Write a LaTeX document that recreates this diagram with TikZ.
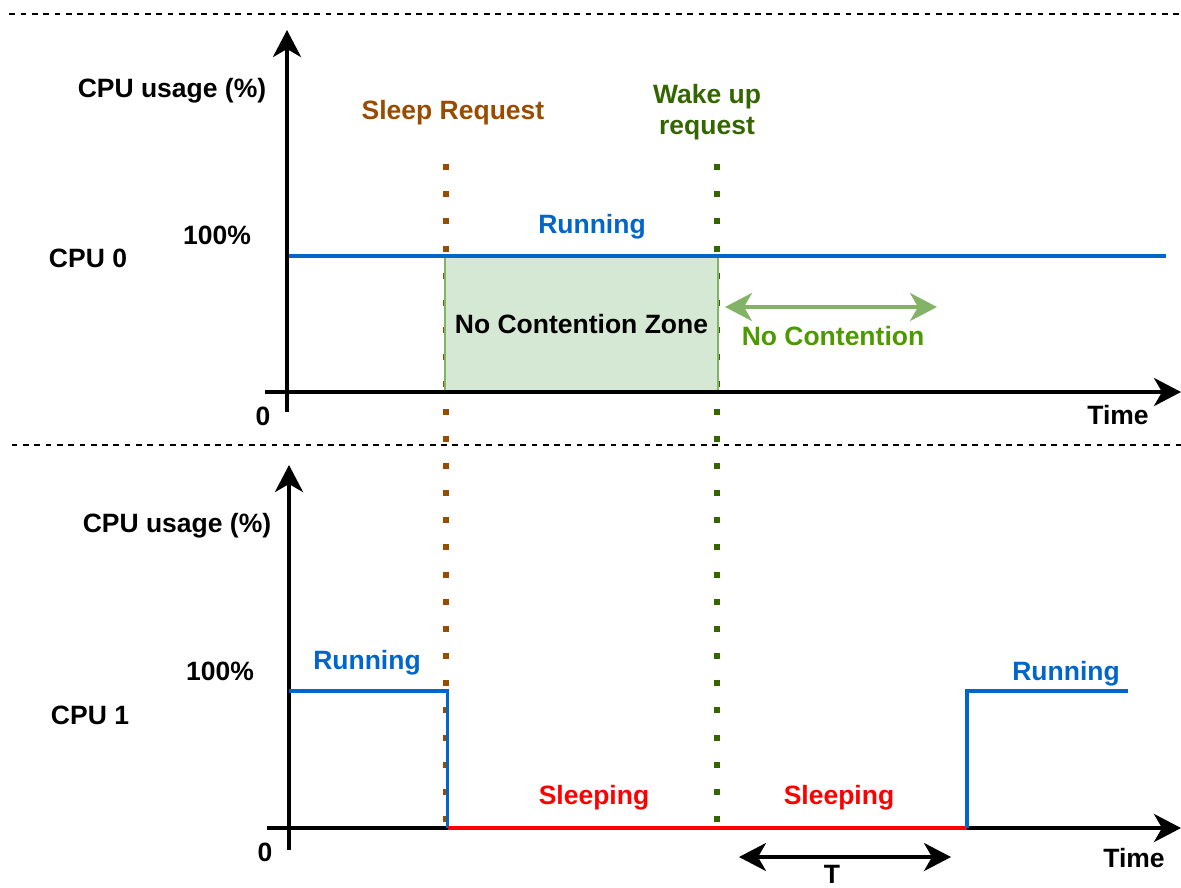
\documentclass[tikz,border=0pt]{standalone}
\usepackage{fontspec}
\setmainfont{Liberation Sans}
\usetikzlibrary{arrows.meta}
\definecolor{cblue}{HTML}{0066CC}
\definecolor{cred}{HTML}{FF0000}
\definecolor{cbrown}{HTML}{994C00}
\definecolor{cdkgreen}{HTML}{336600}
\definecolor{cgreen}{HTML}{4D9900}
\definecolor{carrow}{HTML}{82B366}
\definecolor{cboxfill}{HTML}{D5E8D4}
\begin{document}
\begin{tikzpicture}[x=1pt,y=-1pt,
  lbl/.style={font=\bfseries\fontsize{26.5}{31}\selectfont, inner sep=0pt, anchor=base},
  bigtip/.style={-{Stealth[length=27pt,width=28pt,inset=8pt]}},
  bothtips/.style={{Stealth[length=27pt,width=28pt,inset=8pt]}-{Stealth[length=27pt,width=28pt,inset=8pt]}},
  axisline/.style={line width=4pt, black, bigtip},
  sepline/.style={line width=1.4pt, black, dash pattern=on 5.7pt off 5.6pt},
  dotline/.style={line width=6pt, dash pattern=on 6pt off 21.17pt},
  sigline/.style={line width=3.5pt, line join=miter},
]
\useasboundingbox (0,0) rectangle (1181,887);

% separators
\coordinate (s1l) at (9.3,14);
\coordinate (s1r) at (1181,14);
\coordinate (s2l) at (11.7,445);
\coordinate (s2r) at (1181,445);
\draw[sepline] (s1l) -- (s1r);
\draw[sepline] (s2l) -- (s2r);

% request lines
\coordinate (slt) at (445.7,164);
\coordinate (slb) at (445.7,828);
\coordinate (wkt) at (717.3,164);
\coordinate (wkb) at (717.3,828);
\draw[dotline, cbrown] (slt) -- (slb);
\draw[dotline, cdkgreen] (wkt) -- (wkb);

% ---------- CPU 0 ----------
\node[draw=carrow, fill=cboxfill, line width=2pt, minimum width=273pt, minimum height=135pt,
      anchor=north west, inner sep=0pt, font=\bfseries\fontsize{26.5}{31}\selectfont] (zone) at (444,256) {No Contention Zone};

\coordinate (r0a) at (287,256);
\coordinate (r0b) at (1166,256);
\draw[sigline, cblue] (r0a) -- (r0b);

\coordinate (y0b) at (287,412);
\coordinate (y0t) at (287,30);
\coordinate (x0l) at (265,392);
\coordinate (x0r) at (1181,392);
\draw[axisline] (y0b) -- (y0t);
\draw[axisline] (x0l) -- (x0r);

\coordinate (nca) at (725,307);
\coordinate (ncb) at (937,307);
\draw[line width=3.5pt, carrow, bothtips] (nca) -- (ncb);

\node[lbl] (u0) at (172,97) {CPU usage (\%)};
\node[lbl] (h0) at (217,244) {100\%};
\node[lbl] (c0) at (88,267) {CPU 0};
\node[lbl] (z0) at (263,425) {0};
\node[lbl] (t0) at (1118,424) {Time};
\node[lbl, text=cbrown] (sleepreq) at (453,119) {Sleep Request};
\node[lbl, text=cdkgreen, align=center] (wakereq) at (707,134) {Wake up\\request};
\node[lbl, text=cblue] (run0) at (592,233) {Running};
\node[lbl, text=cgreen] (nocont) at (833,345) {No Contention};

% ---------- CPU 1 ----------
\coordinate (p1) at (289,691);
\coordinate (p2) at (447.5,691);
\coordinate (p3) at (447.5,828);
\coordinate (p4) at (967,828);
\coordinate (p5) at (967,691);
\coordinate (p6) at (1128,691);

\coordinate (y1b) at (289,850);
\coordinate (y1t) at (289,465);
\coordinate (x1l) at (267,828);
\coordinate (x1r) at (1181,828);
\draw[axisline] (y1b) -- (y1t);
\draw[axisline] (x1l) -- (x1r);

\draw[sigline, cblue] (p1) -- (p2) -- (p3);
\draw[sigline, cred] (p3) -- (p4);
\draw[sigline, cblue] (p4) -- (p5) -- (p6);

\coordinate (ta) at (739,857);
\coordinate (tb) at (951,857);
\draw[line width=3.5pt, black, bothtips] (ta) -- (tb);

\node[lbl] (u1) at (177,532) {CPU usage (\%)};
\node[lbl] (h1) at (220,680) {100\%};
\node[lbl] (c1) at (90,724) {CPU 1};
\node[lbl] (z1) at (265,861) {0};
\node[lbl] (t1) at (1134,867) {Time};
\node[lbl, text=cblue] (run1) at (367,669) {Running};
\node[lbl, text=cblue] (run2) at (1066,680) {Running};
\node[lbl, text=cred] (sl1) at (594,804) {Sleeping};
\node[lbl, text=cred] (sl2) at (839,804) {Sleeping};
\node[lbl] (tT) at (832,883) {T};
\end{tikzpicture}
\end{document}
